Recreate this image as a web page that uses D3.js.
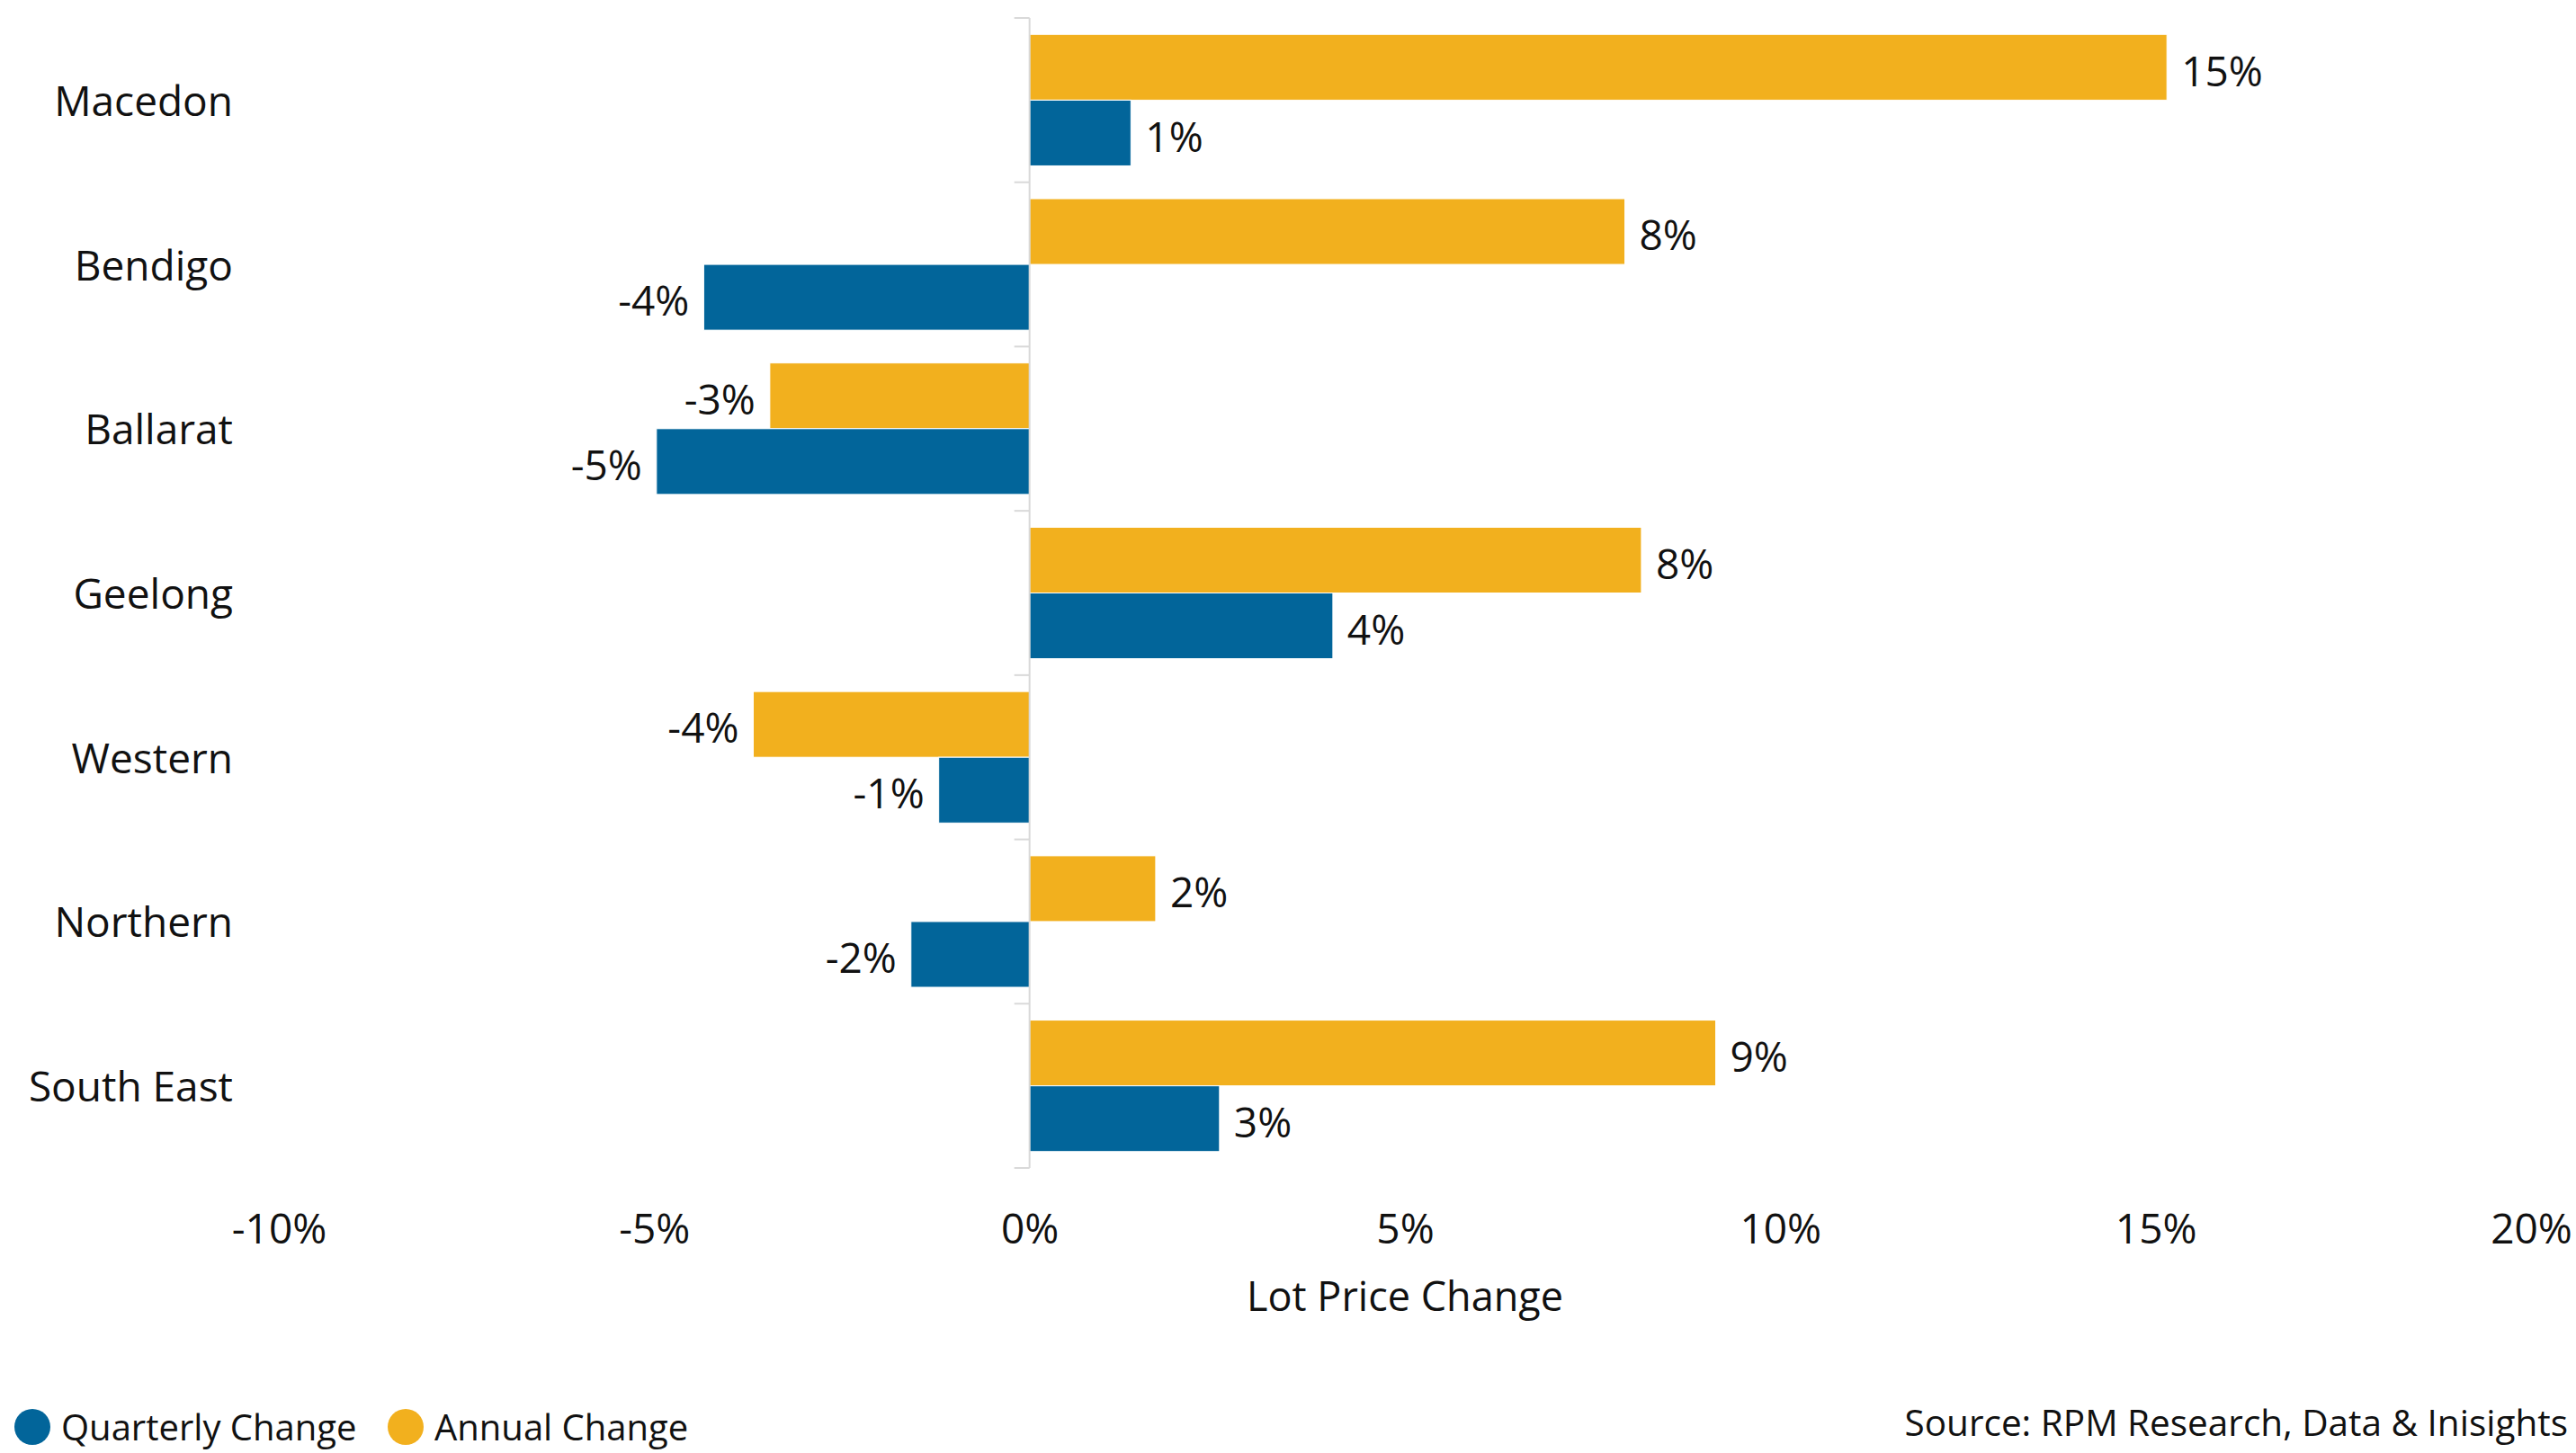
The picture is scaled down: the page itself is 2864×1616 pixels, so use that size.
<!DOCTYPE html>
<html>
<head>
<meta charset="utf-8">
<script src="https://cdn.jsdelivr.net/npm/d3@7"></script>
<style>
  html, body { margin: 0; padding: 0; background: #ffffff; }
  svg { display: block; font-family: "Open Sans", "Noto Sans", sans-serif; }
</style>
</head>
<body>
<svg id="chart" width="2864" height="1616"></svg>
<script>
// Regions, top to bottom
const regions = ["Macedon", "Bendigo", "Ballarat", "Geelong", "Western", "Northern", "South East"];

// Lot price change per region (fraction)
const annualChange    = [0.1515, 0.0793, -0.0346, 0.0815, -0.0368, 0.0168, 0.0914];
const quarterlyChange = [0.0135, -0.0434, -0.0497, 0.0404, -0.0121, -0.0158, 0.0253];

// Axis ticks
const xTicks = [-0.10, -0.05, 0, 0.05, 0.10, 0.15, 0.20];

const seriesNames = ["Annual Change", "Quarterly Change"];
const seriesKeys = ["annual", "quarterly"];
const colors = { annual: "#F2B01E", quarterly: "#02659A" };

const rows = regions.map((r, i) => ({
  region: r,
  annual: annualChange[i],
  quarterly: quarterlyChange[i]
}));

const svg = d3.select("#chart");

const x = d3.scaleLinear().domain([-0.10, 0.20]).range([310, 2814]);
const y = d3.scaleBand().domain(regions).range([20, 1299]).paddingInner(0).paddingOuter(0);
const ySub = d3.scaleBand().domain(seriesKeys).range([0, y.bandwidth()]).paddingInner(0).paddingOuter(0.25);

// Percent format with a plain hyphen for negatives
const locale = d3.formatLocale({ decimal: ".", thousands: ",", grouping: [3], currency: ["$", ""], minus: "-" });
const fmt = locale.format(".0%");

// Bars
const groups = svg.append("g").selectAll("g.region")
  .data(rows).join("g")
  .attr("class", "region")
  .attr("transform", d => `translate(0,${y(d.region)})`);

seriesKeys.forEach(k => {
  groups.append("rect")
    .attr("x", d => Math.min(x(0), x(d[k])))
    .attr("y", ySub(k))
    .attr("width", d => Math.abs(x(d[k]) - x(0)))
    .attr("height", ySub.bandwidth())
    .attr("fill", colors[k])
    .attr("stroke", "#ffffff")
    .attr("stroke-width", 1);

  groups.append("text")
    .attr("x", d => d[k] >= 0 ? x(d[k]) + 16 : x(d[k]) - 16)
    .attr("y", ySub(k) + ySub.bandwidth() / 2)
    .attr("dy", "0.45em")
    .attr("text-anchor", d => d[k] >= 0 ? "start" : "end")
    .attr("font-size", 46)
    .attr("fill", "#111111")
    .text(d => fmt(d[k]));
});

// Category axis: light line at zero with ticks on band boundaries
const axisG = svg.append("g");
const yTop = y.range()[0], yBot = y.range()[1];
axisG.append("line")
  .attr("x1", x(0)).attr("x2", x(0))
  .attr("y1", yTop).attr("y2", yBot)
  .attr("stroke", "#d9d9d9").attr("stroke-width", 2);
const bounds = regions.map(r => y(r)).concat([yBot]);
axisG.selectAll("line.tick").data(bounds).join("line")
  .attr("class", "tick")
  .attr("x1", x(0) - 17).attr("x2", x(0))
  .attr("y1", d => d).attr("y2", d => d)
  .attr("stroke", "#d9d9d9").attr("stroke-width", 2);

// Category labels
svg.append("g").selectAll("text")
  .data(regions).join("text")
  .attr("x", 259)
  .attr("y", d => y(d) + y.bandwidth() / 2)
  .attr("dy", "0.38em")
  .attr("text-anchor", "end")
  .attr("font-size", 46)
  .attr("fill", "#111111")
  .text(d => d);

// Value axis (labels only)
const xAxis = d3.axisBottom(x).tickValues(xTicks).tickFormat(fmt).tickSize(0).tickPadding(0);
const xg = svg.append("g").attr("transform", "translate(0,1366)").call(xAxis);
xg.select(".domain").remove();
xg.selectAll("text")
  .attr("dy", "0.38em")
  .attr("y", 0)
  .attr("font-size", 46)
  .attr("font-family", "\"Open Sans\", \"Noto Sans\", sans-serif")
  .attr("fill", "#111111");

// Axis title
svg.append("text")
  .attr("x", (x.range()[0] + x.range()[1]) / 2)
  .attr("y", 1441)
  .attr("dy", "0.38em")
  .attr("text-anchor", "middle")
  .attr("font-size", 45)
  .attr("fill", "#111111")
  .text("Lot Price Change");

// Legend
const legendItems = [
  { key: "quarterly", label: seriesNames[1], cx: 36, tx: 68 },
  { key: "annual", label: seriesNames[0], cx: 451, tx: 483 }
];
const lg = svg.append("g").selectAll("g").data(legendItems).join("g");
lg.append("circle")
  .attr("cx", d => d.cx).attr("cy", 1587).attr("r", 20)
  .attr("fill", d => colors[d.key]);
lg.append("text")
  .attr("x", d => d.tx).attr("y", 1587)
  .attr("dy", "0.38em")
  .attr("font-size", 40)
  .attr("fill", "#111111")
  .text(d => d.label);

// Source note
svg.append("text")
  .attr("x", 2855).attr("y", 1582)
  .attr("dy", "0.38em")
  .attr("text-anchor", "end")
  .attr("font-size", 40.5)
  .attr("fill", "#111111")
  .text("Source: RPM Research, Data & Inisights");
</script>
</body>
</html>
